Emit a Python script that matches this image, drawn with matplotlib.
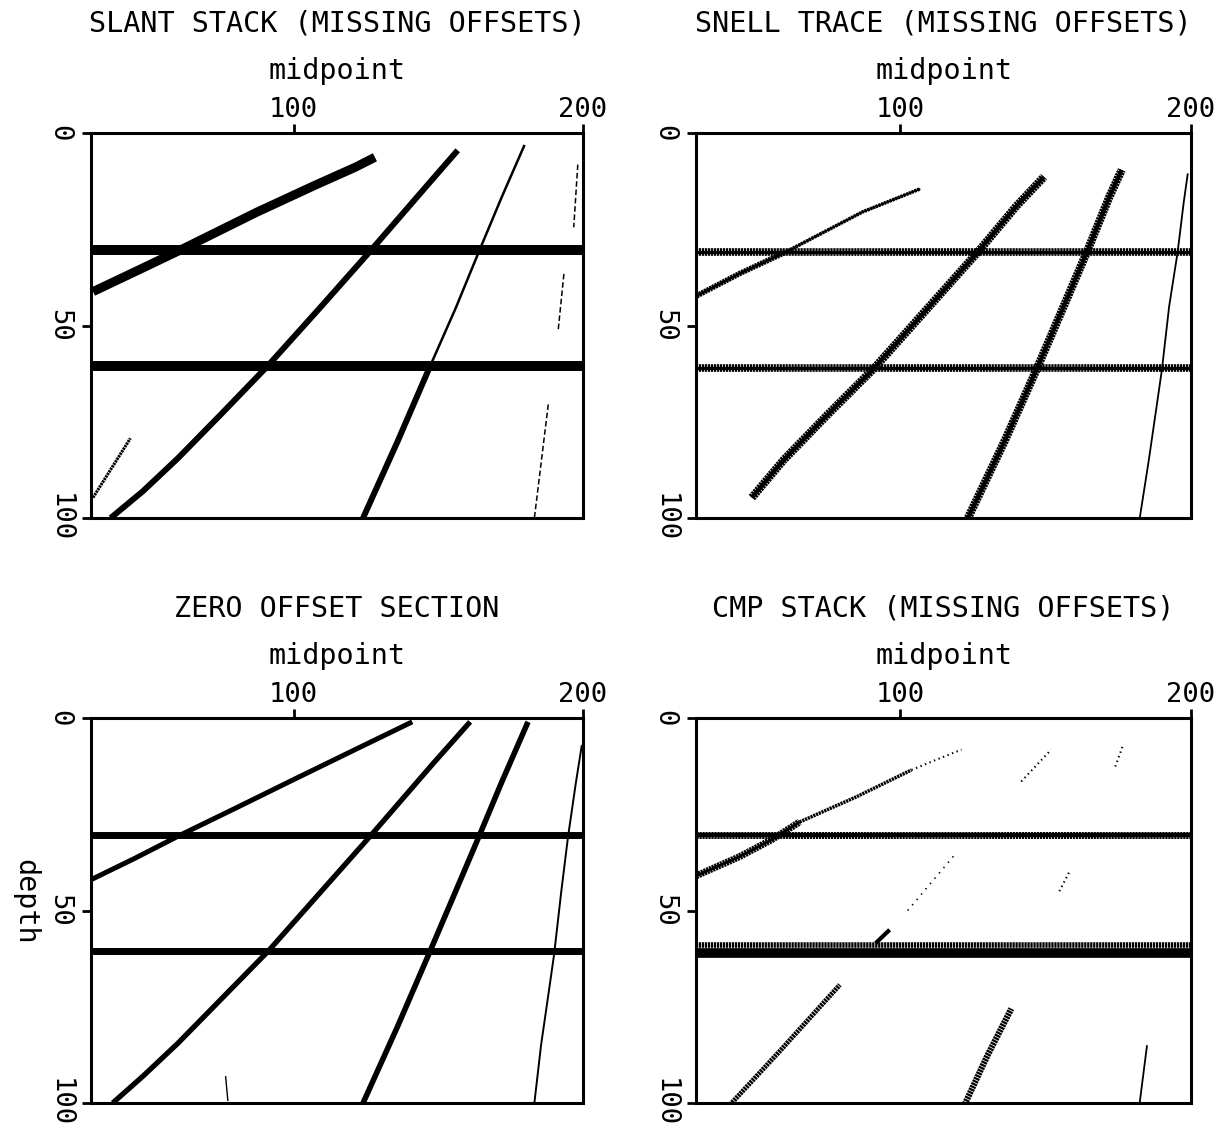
import matplotlib.pyplot as plt
import numpy as np

plt.rcParams['font.family'] = ['DejaVu Sans Mono']
plt.rcParams['lines.scale_dashes'] = False

titles = ["SLANT STACK (MISSING OFFSETS)", "SNELL TRACE (MISSING OFFSETS)",
          "ZERO OFFSET SECTION", "CMP STACK (MISSING OFFSETS)"]
x_ticks = [100, 200]
y_ticks = [0, 50, 100]

# flat reflectors, depth per panel
slant_flat = [30.5, 60.5]
snell_flat = [31.0, 61.0]
zero_flat = [30.5, 60.5]
cmp_flat = [30.5, 61.0]
cmp_flat_fringe = [29.6, 59.0]

slant_a = ([30.7, 45, 60.6, 87.2, 107.6, 121.3, 128.1], [41.2, 36.1, 30.5, 20.6, 13.5, 8.9, 6.3])
slant_b = ([36.8, 48, 60, 75, 91.3, 109, 126.7, 148, 156.7], [100, 93, 84.5, 73, 60.3, 45.5, 30.5, 12, 4.5])
slant_c_up = ([147.2, 156, 164.2, 172, 179.8], [60.5, 45.5, 30.5, 16.5, 3.1])
slant_c_low = ([124, 136, 147.2], [100, 80, 60.5])
slant_d = [([198.2, 196.8], [8.2, 24.5]), ([193.4, 191.4], [36.6, 51.4]), ([188, 183.2], [70.5, 100])]
slant_e = ([30.7, 43.6], [94.7, 79.3])

snell_a_thick = ([30.2, 45, 60.6], [42.3, 36.5, 31])
snell_a_thin = ([60.6, 87.2, 107], [31, 20.5, 14.5])
snell_b = ([49.2, 60, 75, 91.3, 109, 126.7, 140, 149.5], [94.7, 85, 73.3, 61, 46, 31, 19, 11.4])
snell_c = ([123.4, 136, 147.2, 156, 164.2, 172, 176.2], [100, 80, 61, 45.5, 31, 16.5, 9.6])
snell_d = ([182.4, 185.5, 188, 190, 192.5, 195.4, 197.5, 198.9], [100, 85, 72, 61.5, 45, 31, 18, 10.5])

zero_a = ([30, 45, 60.6, 80, 100, 121, 141], [42, 36.5, 30.5, 23.4, 16, 8.3, 1])
zero_b = ([37.5, 48, 60, 75, 91.3, 109, 126.7, 148, 161], [100, 93, 84.5, 73, 60.5, 45.5, 30.5, 12, 1])
zero_c = ([124, 136, 147.2, 156, 164.2, 172, 181], [100, 80, 60.5, 45, 30.5, 16.5, 1])
zero_d = ([183.2, 185.5, 188, 190, 192.5, 194.8, 197.5, 199.6], [100, 85, 72, 61.5, 45, 31, 17, 7])
zero_spec = ([76.5, 77.3], [93, 99.5])

cmp_a_dots = ([104, 112, 121.2], [13.5, 11, 8.2])
cmp_a_thin = ([65.6, 85, 104], [27, 20.5, 13.5])
cmp_a_thick = ([30, 45, 56, 65.6], [41, 36, 31.6, 27])
cmp_b_top = ([141.7, 152], [16.5, 8.2])
cmp_b_mid = ([102.7, 119.1], [50, 35.3])
cmp_b_h2 = ([91.7, 96.5], [58.5, 55])
cmp_b_low = ([41, 58.8, 79.4], [101, 86.5, 69.3])
cmp_c_top = ([174, 176.7], [12.6, 7])
cmp_c_mid = ([154.8, 158.2], [45, 40])
cmp_c_low = ([121.9, 130, 138.3], [101, 87.8, 75.5])
cmp_d = ([182.2, 184.9], [101, 85])

hatch = (1.6, 0.55)
dots = (1.0, 2.5)


def ev(ax, e, lw, dashes=None):
    line, = ax.plot(e[0], e[1], color='black', lw=lw, solid_capstyle='butt',
                    dash_capstyle='butt')
    if dashes is not None:
        line.set_dashes(dashes)


def flat(ax, z, lw, dashes=None):
    line = ax.axhline(z, color='black', lw=lw)
    line.set_solid_capstyle('butt')
    if dashes is not None:
        line.set_dashes(dashes)


fig = plt.figure(figsize=(12.24, 11.28), dpi=100)
boxes = [[0.07435, 0.54078, 0.40196, 0.34131],
         [0.56863, 0.54078, 0.40441, 0.34131],
         [0.07435, 0.02216, 0.40196, 0.34131],
         [0.56863, 0.02216, 0.40441, 0.34131]]
axes = []
for i, box in enumerate(boxes):
    ax = fig.add_axes(box)
    ax.set_xlim(30, 200)
    ax.set_ylim(100, 0)
    ax.xaxis.tick_top()
    ax.xaxis.set_label_position('top')
    ax.set_xticks(x_ticks)
    ax.set_yticks(y_ticks)
    ax.tick_params(direction='out', length=6.5, width=2, labelsize=19.5)
    ax.tick_params(axis='x', pad=0.5)
    ax.tick_params(axis='y', pad=7, labelrotation=270)
    for lab in ax.get_yticklabels():
        lab.set_va('center')
    for s in ax.spines.values():
        s.set_linewidth(2.2)
    ax.set_xlabel('midpoint', fontsize=20.5, labelpad=13)
    ax.set_title(titles[i], fontsize=20.5, y=1.2416, va='baseline')
    axes.append(ax)

# slant stack
ax = axes[0]
for z in slant_flat:
    flat(ax, z, 7.2)
ev(ax, slant_a, 6.5)
ev(ax, slant_b, 4.3)
ev(ax, slant_c_up, 1.8)
ev(ax, slant_c_low, 4.3)
for seg in slant_d:
    ev(ax, seg, 1.1, (4, 2))
ev(ax, slant_e, 2.2, hatch)

# snell trace
ax = axes[1]
for z in snell_flat:
    flat(ax, z, 5.5, hatch)
    flat(ax, z, 2.2)
ev(ax, snell_a_thick, 4.0, hatch)
ev(ax, snell_a_thick, 2.0)
ev(ax, snell_a_thin, 2.6, hatch)
ev(ax, snell_a_thin, 1.2)
ev(ax, snell_b, 6.0, hatch)
ev(ax, snell_b, 3.0)
ev(ax, snell_c, 6.0, hatch)
ev(ax, snell_c, 3.0)
ev(ax, snell_d, 1.3)

# zero offset section
ax = axes[2]
for z in zero_flat:
    flat(ax, z, 5.0)
ev(ax, zero_a, 3.6)
ev(ax, zero_b, 3.8)
ev(ax, zero_c, 4.0)
ev(ax, zero_d, 1.4)
ev(ax, zero_spec, 1.0)
ax.set_ylabel('depth', fontsize=20.5, rotation=270, va='top', labelpad=5, y=0.523)

# cmp stack
ax = axes[3]
flat(ax, cmp_flat[0], 5.0, hatch)
flat(ax, cmp_flat[0], 3.0)
flat(ax, cmp_flat_fringe[1], 4.0, hatch)
flat(ax, cmp_flat[1], 7.0)
ev(ax, cmp_a_dots, 1.5, dots)
ev(ax, cmp_a_thin, 2.5, hatch)
ev(ax, cmp_a_thick, 5.0, hatch)
ev(ax, cmp_a_thick, 2.0)
ev(ax, cmp_b_top, 1.5, dots)
ev(ax, cmp_b_mid, 1.2, (1.0, 4.0))
ev(ax, cmp_b_h2, 3.0)
ev(ax, cmp_b_low, 3.5, hatch)
ev(ax, cmp_c_top, 1.5, dots)
ev(ax, cmp_c_mid, 1.5, dots)
ev(ax, cmp_c_low, 4.5, hatch)
ev(ax, cmp_d, 1.3)

fig.savefig('out.png', dpi=100)
